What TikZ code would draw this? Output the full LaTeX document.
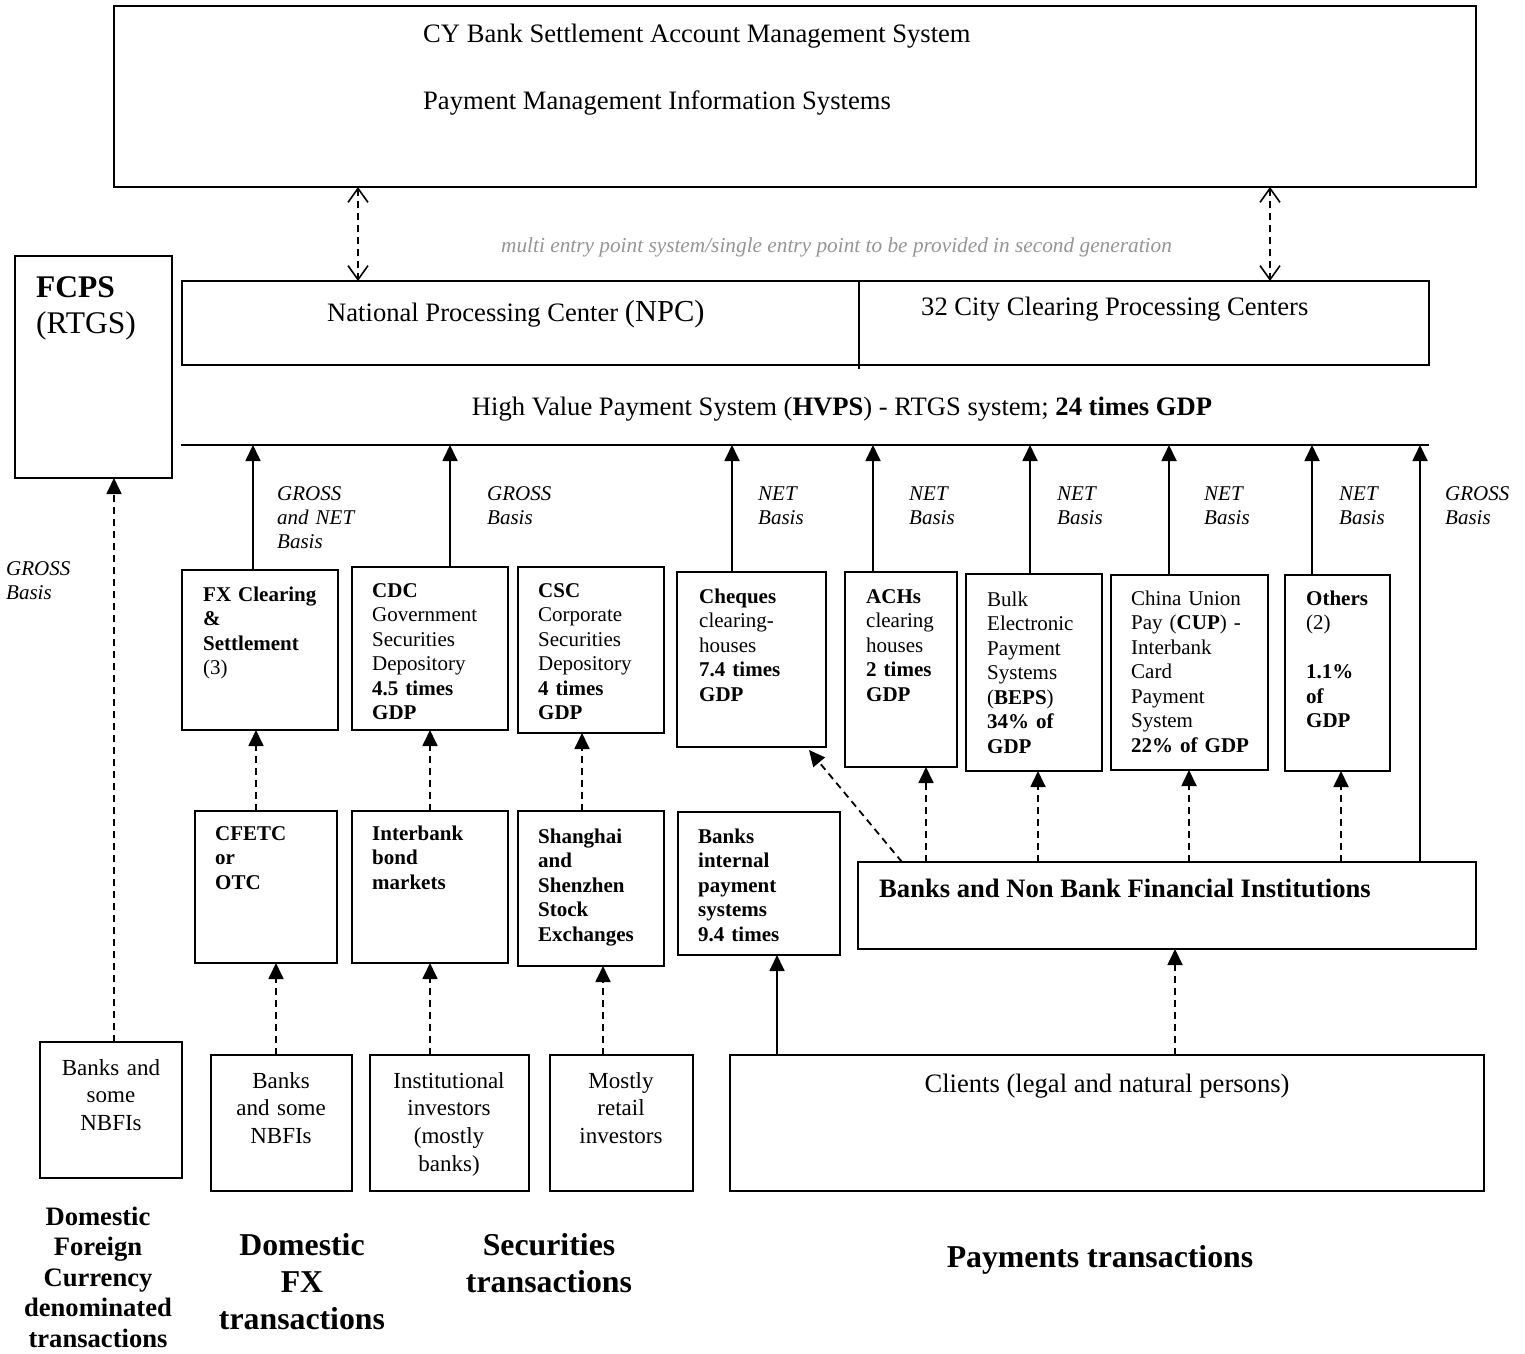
\documentclass[tikz,border=0pt]{standalone}
\usepackage{fontspec}
\setmainfont{Liberation Serif}
\usetikzlibrary{arrows.meta,calc}
\definecolor{notegray}{RGB}{150,150,150}
\tikzset{
  bx/.style={draw, line width=1.8pt, anchor=north west, inner sep=0pt, outer sep=0pt},
  ln/.style={line width=1.8pt},
  arr/.style={line width=1.8pt, -{Triangle[width=15pt,length=16pt]}},
  darr/.style={arr, dash pattern=on 7pt off 5pt},
  dbl/.style={line width=1.6pt, dash pattern=on 7pt off 5pt,
    {Straight Barb[width=20pt,length=14pt]}-{Straight Barb[width=20pt,length=14pt]}},
  tl/.style={anchor=base west, inner sep=0pt, align=left, text width=#1},
  tc/.style={anchor=base, inner sep=0pt, align=center, text width=#1},
  one/.style={anchor=base west, inner sep=0pt},
  fbig/.style={font=\fontsize{26.6}{30}\selectfont},
  fbox/.style={font=\fontsize{21}{24.5}\selectfont},
  fboxb/.style={font=\fontsize{21}{24.5}\selectfont\bfseries},
  flab/.style={font=\fontsize{21}{24}\selectfont\itshape},
  fbot/.style={font=\fontsize{23}{27.8}\selectfont},
}
\begin{document}
\begin{tikzpicture}[x=1pt,y=-1pt]
\path[fill=white] (0,0) rectangle (1525,1353);
\useasboundingbox (0,0) rectangle (1525,1353);

% ---------- top system box ----------
\node[bx, minimum width=1362, minimum height=181] (sys) at (114,6) {};
\node[one, fbig] (sysA) at (423,42) {CY Bank Settlement Account Management System};
\node[one, fbig] (sysB) at (423,109) {Payment Management Information Systems};

% ---------- NPC / CCPC box ----------
\node[bx, minimum width=1247, minimum height=84] (npc) at (182,281) {};
\draw[ln] (npc.north -| 859,0) -- ([yshift=-4pt]npc.south -| 859,0);
\node[one, fbig] (npcT) at (327,321) {National Processing Center {\fontsize{30.5}{30}\selectfont(NPC)}};
\node[one, fbig] (ccpcT) at (921,315) {32 City Clearing Processing Centers};

\draw[dbl] (sys.south -| 358,0) -- (npc.north -| 358,0);
\draw[dbl] (sys.south -| 1270,0) -- (npc.north -| 1270,0);
\node[one, font=\fontsize{21.3}{24}\selectfont\itshape, text=notegray] (note) at (501,252)
  {multi entry point system/single entry point to be provided in second generation};

% ---------- HVPS ----------
\node[anchor=base, inner sep=0pt, fbig] (hvT) at (842,415)
  {High Value Payment System (\textbf{HVPS}) - RTGS system; \textbf{24 times GDP}};
\coordinate (hvL) at (181,445);
\coordinate (hvR) at (1429,445);
\draw[ln] (hvL) -- (hvR);

% ---------- FCPS ----------
\node[bx, minimum width=157, minimum height=222] (fcps) at (15,256) {};
\node[tl=140pt, font=\fontsize{31.5}{36}\selectfont] (fcpsT) at (36,297) {\textbf{FCPS}\\(RTGS)};
\node[tl=90pt, flab] (g0) at (6,575) {GROSS\\Basis};

% ---------- row 1 boxes ----------
\node[bx, minimum width=156, minimum height=160] (fx)   at (182,570) {};
\node[bx, minimum width=156, minimum height=163] (cdc)  at (352,567) {};
\node[bx, minimum width=146, minimum height=166] (csc)  at (518,567) {};
\node[bx, minimum width=149, minimum height=175] (chq)  at (677,572) {};
\node[bx, minimum width=112, minimum height=195] (ach)  at (845,572) {};
\node[bx, minimum width=136, minimum height=197] (beps) at (966,574) {};
\node[bx, minimum width=157, minimum height=195] (cup)  at (1111,575) {};
\node[bx, minimum width=105, minimum height=196] (oth)  at (1285,575) {};

\node[tl=150pt, fbox] (fxT)  at (203,601) {\textbf{FX Clearing}\\\textbf{\&}\\\textbf{Settlement}\\(3)};
\node[tl=150pt, fbox] (cdcT) at (372,597) {\textbf{CDC}\\Government\\Securities\\Depository\\\textbf{4.5 times}\\\textbf{GDP}};
\node[tl=150pt, fbox] (cscT) at (538,597) {\textbf{CSC}\\Corporate\\Securities\\Depository\\\textbf{4 times}\\\textbf{GDP}};
\node[tl=150pt, fbox] (chqT) at (699,603) {\textbf{Cheques}\\clearing-\\houses\\\textbf{7.4 times}\\\textbf{GDP}};
\node[tl=150pt, fbox] (achT) at (866,603) {\textbf{ACHs}\\clearing\\houses\\\textbf{2 times}\\\textbf{GDP}};
\node[tl=150pt, fbox] (bepsT) at (987,606) {Bulk\\Electronic\\Payment\\Systems\\(\textbf{BEPS})\\\textbf{34\% of}\\\textbf{GDP}};
\node[tl=150pt, fbox] (cupT) at (1131,605) {China Union\\Pay (\textbf{CUP}) -\\Interbank\\Card\\Payment\\System\\\textbf{22\% of GDP}};
\node[tl=150pt, fbox] (othT) at (1306,605) {\textbf{Others}\\(2)\\~\\\textbf{1.1\%}\\\textbf{of}\\\textbf{GDP}};

% labels
\node[tl=100pt, flab] (g1) at (277,500) {GROSS\\and NET\\Basis};
\node[tl=100pt, flab] (g2) at (487,500) {GROSS\\Basis};
\node[tl=100pt, flab] (n1) at (758,500) {NET\\Basis};
\node[tl=100pt, flab] (n2) at (909,500) {NET\\Basis};
\node[tl=100pt, flab] (n3) at (1057,500) {NET\\Basis};
\node[tl=100pt, flab] (n4) at (1204,500) {NET\\Basis};
\node[tl=100pt, flab] (n5) at (1339,500) {NET\\Basis};
\node[tl=80pt, flab] (g3) at (1445,500) {GROSS\\Basis};

% up arrows to HVPS
\draw[arr] (fx.north -| 253,0) -- (hvL -| 253,0);
\draw[arr] (cdc.north -| 450,0) -- (hvL -| 450,0);
\draw[arr] (chq.north -| 732,0) -- (hvL -| 732,0);
\draw[arr] (ach.north -| 873,0) -- (hvL -| 873,0);
\draw[arr] (beps.north -| 1030,0) -- (hvL -| 1030,0);
\draw[arr] (cup.north -| 1169,0) -- (hvL -| 1169,0);
\draw[arr] (oth.north -| 1312,0) -- (hvL -| 1312,0);

% ---------- row 2 boxes ----------
\node[bx, minimum width=142, minimum height=152] (cfetc) at (195,811) {};
\node[bx, minimum width=156, minimum height=152] (ibm)   at (352,811) {};
\node[bx, minimum width=146, minimum height=155] (sse)   at (518,811) {};
\node[bx, minimum width=162, minimum height=143] (bip)   at (678,812) {};
\node[bx, minimum width=618, minimum height=87]  (bnk)   at (858,862) {};

\node[tl=130pt, fboxb] (cfetcT) at (215,840) {CFETC\\or\\OTC};
\node[tl=130pt, fboxb] (ibmT)   at (372,840) {Interbank\\bond\\markets};
\node[tl=130pt, fboxb] (sseT)   at (538,843) {Shanghai\\and\\Shenzhen\\Stock\\Exchanges};
\node[tl=140pt, fboxb] (bipT)   at (698,843) {Banks\\internal\\payment\\systems\\9.4 times};
\node[one, font=\fontsize{26.6}{30}\selectfont\bfseries] (bnkT) at (879,897) {Banks and Non Bank Financial Institutions};

% row 2 -> row 1
\draw[darr] (cfetc.north -| 256,0) -- (fx.south -| 256,0);
\draw[darr] (ibm.north -| 430,0) -- (cdc.south -| 430,0);
\draw[darr] (sse.north -| 582,0) -- (csc.south -| 582,0);
\draw[darr] (bnk.north -| 902,0) -- ([xshift=-17pt,yshift=-3pt]chq.south east);
\draw[darr] (bnk.north -| 926,0) -- (ach.south -| 926,0);
\draw[darr] (bnk.north -| 1038,0) -- (beps.south -| 1038,0);
\draw[darr] (bnk.north -| 1189,0) -- (cup.south -| 1189,0);
\draw[darr] (bnk.north -| 1341,0) -- (oth.south -| 1341,0);
\draw[arr] (bnk.north -| 1420,0) -- (hvL -| 1420,0);

% ---------- row 3 boxes ----------
\node[bx, minimum width=142, minimum height=136] (lb)   at (40,1042) {};
\node[bx, minimum width=141, minimum height=136] (b2)   at (211,1055) {};
\node[bx, minimum width=159, minimum height=136] (inst) at (370,1055) {};
\node[bx, minimum width=143, minimum height=136] (ret)  at (550,1055) {};
\node[bx, minimum width=754, minimum height=136] (cli)  at (730,1055) {};

\node[tc=140pt, fbot] (lbT)   at (111,1075) {Banks and\\some\\NBFIs};
\node[tc=140pt, fbot] (b2T)   at (281,1088) {Banks\\and some\\NBFIs};
\node[tc=160pt, fbot] (instT) at (449,1088) {Institutional\\investors\\(mostly\\banks)};
\node[tc=140pt, fbot] (retT)  at (621,1088) {Mostly\\retail\\investors};
\node[anchor=base, inner sep=0pt, fbig] (cliT) at (1107,1092) {Clients (legal and natural persons)};

% row 3 -> row 2
\draw[darr] (lb.north -| 114,0) -- (fcps.south -| 114,0);
\draw[darr] (b2.north -| 276,0) -- (cfetc.south -| 276,0);
\draw[darr] (inst.north -| 430,0) -- (ibm.south -| 430,0);
\draw[darr] (ret.north -| 603,0) -- (sse.south -| 603,0);
\draw[arr] (cli.north -| 777,0) -- (bip.south -| 777,0);
\draw[darr] (cli.north -| 1175,0) -- (bnk.south -| 1175,0);

% ---------- bottom captions ----------
\node[tc=180pt, font=\fontsize{26.6}{30.5}\selectfont\bfseries] (d1) at (98,1225)
  {Domestic\\Foreign\\Currency\\denominated\\transactions};
\node[tc=200pt, font=\fontsize{31.8}{37}\selectfont\bfseries] (d2) at (302,1255)
  {Domestic\\FX\\transactions};
\node[tc=200pt, font=\fontsize{31.8}{37}\selectfont\bfseries] (d3) at (549,1255)
  {Securities\\transactions};
\node[anchor=base, inner sep=0pt, font=\fontsize{31.8}{37}\selectfont\bfseries] (d4) at (1100,1267)
  {Payments transactions};
\end{tikzpicture}
\end{document}
